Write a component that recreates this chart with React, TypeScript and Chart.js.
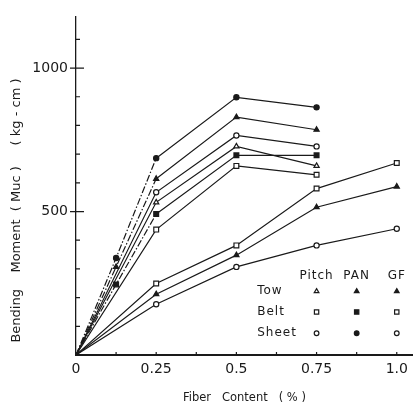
import React, { useEffect, useRef } from 'react';
import { Chart, registerables } from 'chart.js';
import { drawPoint } from 'chart.js/helpers';

Chart.register(...registerables);

// ---- data ----
const xPitch = [0, 0.25, 0.5, 0.75];
const xPan = [0, 0.125, 0.25, 0.5, 0.75];
const xGF = [0, 0.25, 0.5, 0.75, 1.0];

const pitchTow = [0, 532, 727, 659];
const pitchBelt = [0, 437, 659, 628];
const pitchSheet = [0, 567, 765, 727];
const panTow = [0, 307, 614, 829, 785];
const panBelt = [0, 246, 491, 696, 696];
const panSheet = [0, 338, 686, 898, 863];
const gfTow = [0, 212, 348, 515, 587];
const gfBelt = [0, 249, 382, 580, 669];
const gfSheet = [0, 177, 307, 382, 440];

const xTickValues = [0, 0.25, 0.5, 0.75, 1.0];
const xTickLabels = ['0', '0.25', '0.5', '0.75', '1.0'];
const yTickValues = [500, 1000];
const yTickLabels = ['500', '1000'];
const legendCols = ['Pitch', 'PAN', 'GF'];
const legendRows = ['Tow', 'Belt', 'Sheet'];

const INK = '#1a1a1a';
const FONT = "'DejaVu Sans', sans-serif";

type Sym = { style: string; filled: boolean };
// rows: Tow, Belt, Sheet ; cols: Pitch, PAN, GF
const symbols: Sym[][] = [
  [{ style: 'triangle', filled: false }, { style: 'triangle', filled: true }, { style: 'triangle', filled: true }],
  [{ style: 'rect', filled: false }, { style: 'rect', filled: true }, { style: 'rect', filled: false }],
  [{ style: 'circle', filled: false }, { style: 'circle', filled: true }, { style: 'circle', filled: false }],
];

function symRadius(style: string) {
  return style === 'rect' ? 3.4 : style === 'triangle' ? 3 : 2.6;
}

function makeDataset(label: string, xs: number[], ys: number[], sym: Sym, dashed: boolean) {
  return {
    label,
    data: xs.map((x, i) => ({ x, y: ys[i] })),
    borderColor: INK,
    borderWidth: 1.2,
    backgroundColor: sym.filled ? INK : '#ffffff',
    pointBackgroundColor: sym.filled ? INK : '#ffffff',
    pointBorderColor: INK,
    pointBorderWidth: 1.2,
    pointStyle: sym.style,
    pointRadius: (ctx: any) => (ctx.raw && ctx.raw.x === 0 ? 0 : symRadius(sym.style)),
    fill: false,
    tension: 0,
    segment: dashed
      ? { borderDash: (ctx: any) => (ctx.p1.parsed.x <= 0.25 ? [7, 2, 1.5, 2] : undefined) }
      : undefined,
  };
}

const tickPlugin = {
  id: 'tickMarks',
  afterDraw(chart: any) {
    const { ctx, scales } = chart;
    const xs = scales.x;
    const ys = scales.y;
    const x0 = xs.getPixelForValue(0);
    const y0 = ys.getPixelForValue(0);
    ctx.save();
    ctx.strokeStyle = INK;
    ctx.lineWidth = 1.2;
    ctx.beginPath();
    for (let v = 100; v <= 1100; v += 100) {
      const y = ys.getPixelForValue(v);
      const major = v % 500 === 0;
      ctx.moveTo(major ? x0 - 6 : x0, y);
      ctx.lineTo(major ? x0 + 8 : x0 + 4, y);
    }
    for (let v = 0.125; v <= 1.0001; v += 0.125) {
      const x = xs.getPixelForValue(v);
      ctx.moveTo(x, y0);
      ctx.lineTo(x, y0 - 3);
    }
    ctx.stroke();
    ctx.restore();
  },
};

const legendPlugin = {
  id: 'tableLegend',
  afterDraw(chart: any) {
    const { ctx, scales } = chart;
    const xs = scales.x;
    const ys = scales.y;
    const colX = [0.75, 0.875, 1.0].map((v) => xs.getPixelForValue(v));
    const labelX = xs.getPixelForValue(0.565);
    const headerY = ys.getPixelForValue(275);
    const rowY = [222, 150, 76].map((v) => ys.getPixelForValue(v));
    ctx.save();
    try { (ctx as any).letterSpacing = '1px'; } catch (e) {}
    ctx.fillStyle = INK;
    ctx.font = `12px ${FONT}`;
    ctx.textBaseline = 'middle';
    ctx.textAlign = 'center';
    legendCols.forEach((c, i) => ctx.fillText(c, colX[i], headerY));
    ctx.textAlign = 'left';
    legendRows.forEach((r, i) => ctx.fillText(r, labelX, rowY[i]));
    ctx.lineWidth = 1.2;
    ctx.strokeStyle = INK;
    symbols.forEach((row, ri) => {
      row.forEach((s, ci) => {
        ctx.fillStyle = s.filled ? INK : '#ffffff';
        drawPoint(ctx, { pointStyle: s.style, radius: symRadius(s.style) * 0.9, borderWidth: 1.2, rotation: 0 }, colX[ci], rowY[ri]);
      });
    });
    ctx.restore();
  },
};

export default function App() {
  const ref = useRef<HTMLCanvasElement | null>(null);
  useEffect(() => {
    if (!ref.current) return;
    const datasets = [
      makeDataset('PAN Sheet', xPan, panSheet, symbols[2][1], true),
      makeDataset('PAN Tow', xPan, panTow, symbols[0][1], true),
      makeDataset('Pitch Sheet', xPitch, pitchSheet, symbols[2][0], false),
      makeDataset('Pitch Tow', xPitch, pitchTow, symbols[0][0], false),
      makeDataset('PAN Belt', xPan, panBelt, symbols[1][1], true),
      makeDataset('Pitch Belt', xPitch, pitchBelt, symbols[1][0], false),
      makeDataset('GF Belt', xGF, gfBelt, symbols[1][2], false),
      makeDataset('GF Tow', xGF, gfTow, symbols[0][2], false),
      makeDataset('GF Sheet', xGF, gfSheet, symbols[2][2], false),
    ];
    const chart = new Chart(ref.current, {
      type: 'line',
      data: { datasets: datasets as any },
      options: {
        animation: false,
        responsive: false,
        layout: { padding: { top: 9, right: 4, left: 0, bottom: 0 } },
        plugins: { legend: { display: false }, tooltip: { enabled: false } },
        scales: {
          x: {
            type: 'linear',
            min: 0,
            max: 1.05,
            afterBuildTicks: (s: any) => { s.ticks = xTickValues.map((v) => ({ value: v })); },
            afterFit: (s: any) => { s.height = 58; },
            ticks: {
              autoSkip: false,
              maxRotation: 0,
              padding: 6,
              color: INK,
              font: { family: FONT, size: 14 },
              callback: (v: any) => { const i = xTickValues.indexOf(Number(v)); return i >= 0 ? xTickLabels[i] : ''; },
            },
            grid: { display: false, drawTicks: false },
            border: { display: true, color: INK, width: 2 },
            title: {
              display: true,
              text: 'Fiber   Content   ( % )',
              color: INK,
              font: { family: FONT, size: 11.5 },
              padding: { top: 4, bottom: 8 },
            },
          },
          y: {
            type: 'linear',
            min: 0,
            max: 1180,
            afterBuildTicks: (s: any) => { s.ticks = yTickValues.map((v) => ({ value: v })); },
            afterFit: (s: any) => { s.width = 76; },
            ticks: {
              autoSkip: false,
              padding: 8,
              color: INK,
              font: { family: FONT, size: 14 },
              callback: (v: any) => { const i = yTickValues.indexOf(Number(v)); return i >= 0 ? yTickLabels[i] : ''; },
            },
            grid: { display: false, drawTicks: false },
            border: { display: true, color: INK, width: 1.3 },
            title: {
              display: true,
              text: '   Bending    Moment  ( Muc )     ( kg - cm )',
              align: 'start',
              color: INK,
              font: { family: FONT, size: 13 },
              padding: { top: 9, bottom: 4 },
            },
          },
        },
      },
      plugins: [tickPlugin, legendPlugin],
    });
    return () => chart.destroy();
  }, []);
  return (
    <div style={{ position: 'fixed', left: 0, top: 0, width: 418, height: 413, background: '#fff' }}>
      <canvas ref={ref} width={418} height={413} />
    </div>
  );
}
